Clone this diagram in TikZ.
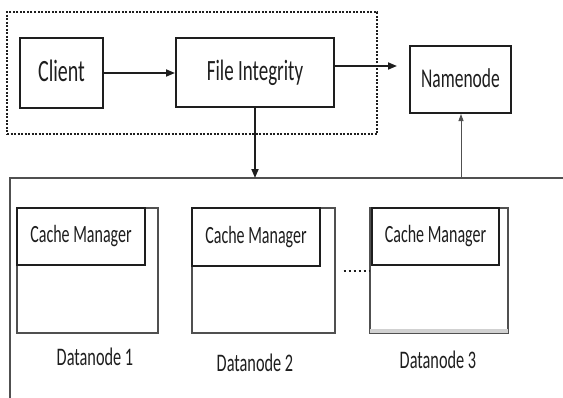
\documentclass[tikz,border=0pt]{standalone}
\usepackage{fontspec}
\setmainfont{Carlito}
\usetikzlibrary{arrows.meta}
\definecolor{ink}{HTML}{1E1E1E}
\definecolor{edge}{HTML}{505050}
% narrow, tall lettering, lifted a little inside its box
\newcommand\tallt[2][0pt]{\raisebox{#1}{\scalebox{1}[1.55]{#2}}}
\tikzset{
  blk/.style={draw=ink, line width=2pt, fill=white, inner sep=0pt, text=ink},
  dnbox/.style={draw=edge, line width=1.4pt, fill=white, inner sep=0pt},
  cachebox/.style={draw=ink, line width=2pt, fill=white, inner sep=0pt, text=ink,
    font=\fontsize{16}{18}\selectfont},
  dnlabel/.style={text=ink, font=\fontsize{16.3}{18}\selectfont},
  flow/.style={draw=ink, line width=1.7pt, -{Triangle[length=9pt,width=7pt]}},
  thinflow/.style={draw=edge, line width=0.9pt, -{Triangle[length=7pt,width=5pt]}},
}
\begin{document}
\begin{tikzpicture}[x=1pt,y=-1pt]
\useasboundingbox (0,0) rectangle (563,397);
\fill[white] (0,0) rectangle (563,397);

% client-side group
\node[draw=ink, line width=1.2pt, dash pattern=on 2pt off 1.5pt,
      minimum width=370pt, minimum height=122pt, inner sep=0pt] (grp) at (192,73) {};

\node[blk, minimum width=83pt, minimum height=70pt,
      font=\fontsize{20}{22}\selectfont] (client) at (61.5,73) {\tallt[5pt]{Client}};
\node[blk, minimum width=158pt, minimum height=69pt,
      font=\fontsize{19}{21}\selectfont] (fi) at (255,72.5) {\tallt[3pt]{File Integrity}};
\node[blk, minimum width=101pt, minimum height=67pt,
      font=\fontsize{17.5}{20}\selectfont] (nn) at (460.5,79.5) {\tallt[2pt]{Namenode}};

% datanode cluster frame (open to the right and bottom)
\coordinate (fbl) at (10,400);
\coordinate (ftl) at (10,178);
\coordinate (ftr) at (566,178);
\draw[draw=edge, line width=1.5pt] (fbl) -- (ftl) -- (ftr);
\coordinate (fin) at (255,178);
\coordinate (fout) at (461,178);

% datanodes
\node[dnbox, minimum width=141pt, minimum height=125pt] (dn1) at (87.5,270.5) {};
\node[dnbox, minimum width=143pt, minimum height=125pt] (dn2) at (263.5,270.5) {};
\node[dnbox, minimum width=138pt, minimum height=125pt] (dn3) at (439,270.5) {};
\fill[black!18] ([xshift=1pt,yshift=1pt]dn3.south west) rectangle ([xshift=-1pt,yshift=5pt]dn3.south east);

\node[cachebox, minimum width=128pt, minimum height=57pt] (c1) at (81,236.5) {\tallt[5pt]{Cache Manager}};
\node[cachebox, minimum width=128pt, minimum height=58pt] (c2) at (256,237) {\tallt[5pt]{Cache Manager}};
\node[cachebox, minimum width=127pt, minimum height=57pt] (c3) at (435.5,236.5) {\tallt[5pt]{Cache Manager}};

\node[dnlabel] (l1) at (95,357) {\tallt{Datanode 1}};
\node[dnlabel] (l2) at (255,363) {\tallt{Datanode 2}};
\node[dnlabel] (l3) at (438,360) {\tallt{Datanode 3}};

% ellipsis between datanodes
\draw[draw=ink, line width=2pt, dash pattern=on 2pt off 3pt] ([xshift=8pt]dn2.east) -- (dn3.west);

% connectors
\draw[flow] (client.east) -- (client.east -| fi.west);
\draw[flow] ([yshift=6.5pt]fi.east) -- ([xshift=-12pt,yshift=6.5pt]fi.east -| nn.west);
\draw[flow] (fi.south) -- (fin);
\draw[thinflow] (fout) -- (fout |- nn.south);
\end{tikzpicture}
\end{document}
